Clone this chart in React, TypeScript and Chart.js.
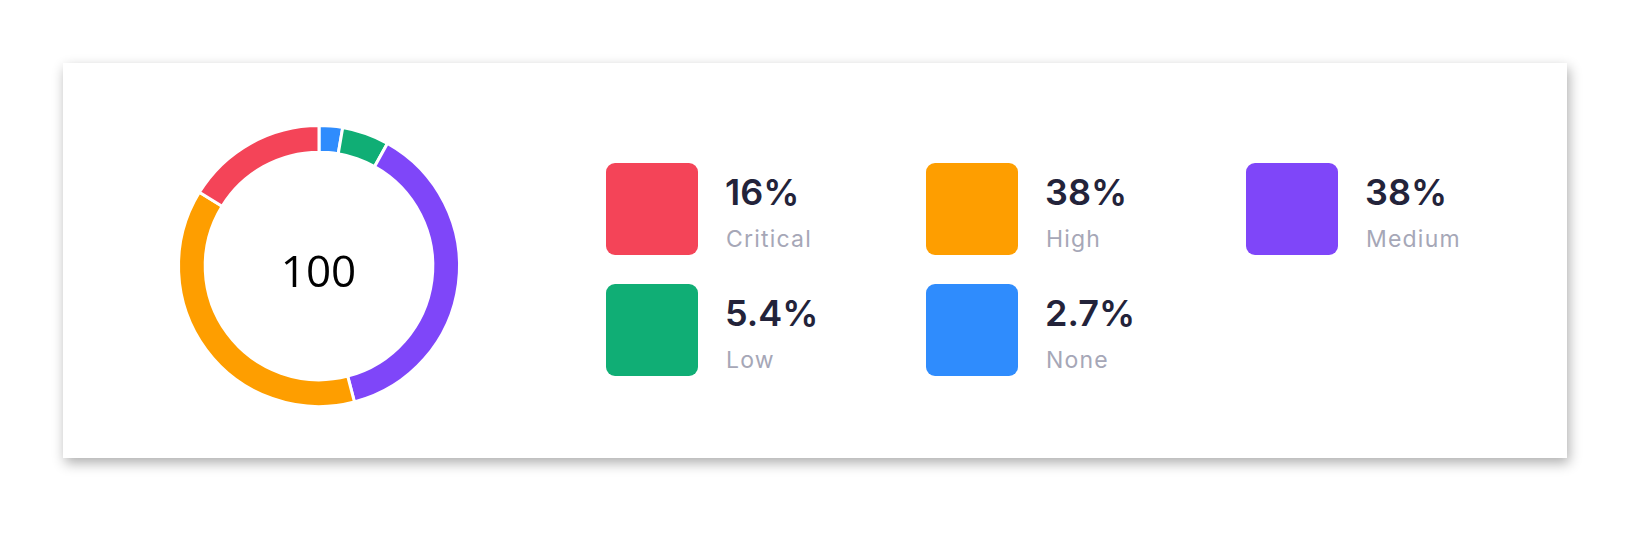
import React, { useEffect, useRef } from "react";
import { Chart, registerables } from "chart.js";

Chart.register(...registerables);

// Data (clockwise from top in the ring)
const ringLabels = ["None", "Low", "Medium", "High", "Critical"];
const ringCounts = [1, 2, 14, 14, 6];
const ringColors = ["#2F8CFD", "#10AE75", "#7F46F9", "#FE9E00", "#F44458"];

// Legend (reading order)
const legendLabels = ["Critical", "High", "Medium", "Low", "None"];
const legendValues = ["16%", "38%", "38%", "5.4%", "2.7%"];
const legendColors = ["#F44458", "#FE9E00", "#7F46F9", "#10AE75", "#2F8CFD"];
const centerTotal = "100";

export default function App() {
  const canvasRef = useRef<HTMLCanvasElement | null>(null);

  useEffect(() => {
    document.body.style.margin = "0";
    const ctx = canvasRef.current!;
    const chart = new Chart(ctx, {
      type: "doughnut",
      data: {
        labels: ringLabels,
        datasets: [
          {
            data: ringCounts,
            backgroundColor: ringColors,
            borderColor: "#ffffff",
            borderWidth: 3,
            hoverOffset: 0,
            offset: 0,
          },
        ],
      },
      options: {
        responsive: false,
        animation: false,
        radius: 140.5,
        cutout: "81%",
        rotation: 0,
        layout: { padding: 0 },
        plugins: { legend: { display: false }, tooltip: { enabled: false } },
      },
    });
    return () => chart.destroy();
  }, []);

  const size = 300;
  const cx = 318.5;
  const cy = 266;

  return (
    <div style={{ position: "absolute", left: 0, top: 0, width: 1641, height: 558, background: "#ffffff", overflow: "hidden" }}>
      <div
        style={{
          position: "absolute",
          left: 63,
          top: 63,
          width: 1504,
          height: 395,
          background: "#ffffff",
          boxShadow: "2px 5px 12px rgba(0,0,0,0.32)",
        }}
      />
      <canvas
        ref={canvasRef}
        width={size}
        height={size}
        style={{ position: "absolute", left: cx - size / 2, top: cy - size / 2, width: size, height: size }}
      />
      <div
        style={{
          position: "absolute",
          left: cx - 100,
          top: cy - 26,
          width: 200,
          height: 60,
          lineHeight: "60px",
          textAlign: "center",
          fontFamily: "'Open Sans', sans-serif",
          fontSize: 44,
          color: "#000000",
        }}
      >
        {centerTotal}
      </div>
      {legendLabels.map((lab, i) => {
        const col = i % 3;
        const row = Math.floor(i / 3);
        const x = 606 + col * 320;
        const y = 163 + row * 121;
        return (
          <div key={lab} style={{ position: "absolute", left: x, top: y, width: 300, height: 92 }}>
            <div
              style={{
                position: "absolute",
                left: 0,
                top: 0,
                width: 92,
                height: 92,
                borderRadius: 9,
                background: legendColors[i],
              }}
            />
            <div
              style={{
                position: "absolute",
                left: 119,
                top: 7,
                fontFamily: "Inter, sans-serif",
                fontWeight: 600,
                fontSize: 36,
                lineHeight: "44px",
                color: "#23233A",
                letterSpacing: 0,
              }}
            >
              {legendValues[i]}
            </div>
            <div
              style={{
                position: "absolute",
                left: 120,
                top: 61,
                fontFamily: "Inter, sans-serif",
                fontWeight: 400,
                fontSize: 23,
                lineHeight: "30px",
                color: "#A6A7B7",
                letterSpacing: 1.2,
              }}
            >
              {lab}
            </div>
          </div>
        );
      })}
    </div>
  );
}
